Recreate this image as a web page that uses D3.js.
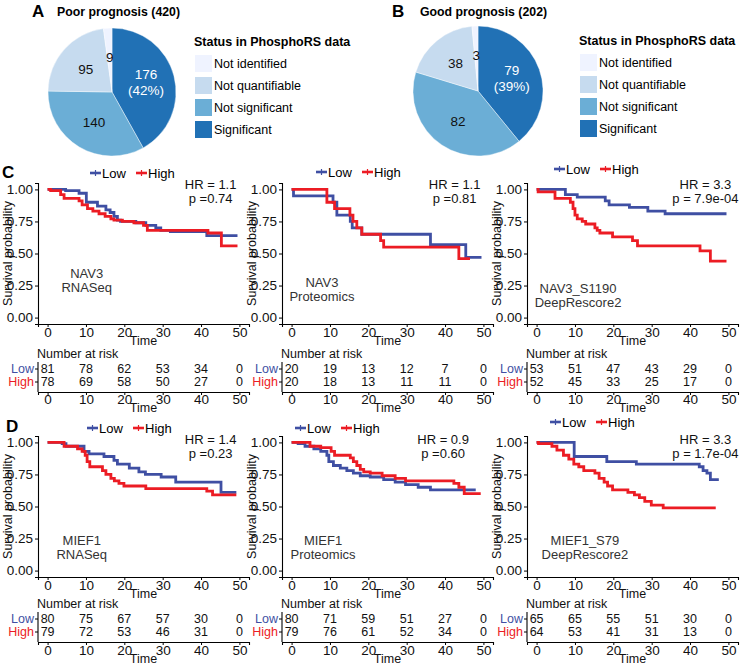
<!DOCTYPE html>
<html>
<head>
<meta charset="utf-8">
<script src="https://cdn.jsdelivr.net/npm/d3@7"></script>
<style>
body { margin: 0; background: #fff; }
svg text { font-family: "Liberation Sans", Arial, Helvetica, sans-serif; }
</style>
</head>
<body>
<script>
// ---- panels A / B : pie data
var statusNames = ["Significant", "Not significant", "Not quantifiable", "Not identified"];
var poorCounts = [176, 140, 95, 9];
var goodCounts = [79, 82, 38, 3];
var legendNames = ["Not identified", "Not quantifiable", "Not significant", "Significant"];

// ---- panels C / D : survival curves
var timeTicks = [0, 10, 20, 30, 40, 50];
var survTicks = [0, 0.25, 0.5, 0.75, 1];
var groupNames = ["Low", "High"];

// step points [time, survival], last pair = end of follow-up
var nav3RnaLow = [[0,1],[4.7,0.99],[8.2,0.97],[10.1,0.90],[13,0.87],[15.2,0.84],[16.3,0.82],[17.3,0.79],[18.2,0.76],[19,0.75],[23,0.74],[25.6,0.72],[28.2,0.70],[29.5,0.68],[32,0.67],[41.5,0.64],[49.5,0.64]];
var nav3RnaHigh = [[0,1],[0.8,0.99],[3.4,0.96],[4.3,0.93],[8.2,0.91],[9,0.88],[10.4,0.85],[11.8,0.83],[13.4,0.81],[15,0.79],[16.5,0.77],[17.3,0.76],[19.5,0.75],[22.5,0.74],[25,0.72],[26,0.68],[41.8,0.66],[45.3,0.56],[49.5,0.56]];
var nav3ProtLow = [[0,1],[0.5,0.95],[10.8,0.90],[11.8,0.80],[15.3,0.75],[15.8,0.70],[18.3,0.65],[36.2,0.57],[45.4,0.47],[49.5,0.47]];
var nav3ProtHigh = [[0,1],[9.2,0.90],[11.2,0.85],[15.2,0.80],[16,0.75],[17,0.70],[18.3,0.65],[23.2,0.60],[24,0.55],[43.6,0.46],[46.5,0.46]];
var nav3SiteLow = [[0,1],[7.5,0.96],[10.6,0.94],[17.9,0.91],[18.9,0.88],[24.2,0.86],[29,0.83],[33.5,0.81],[49.5,0.81]];
var nav3SiteHigh = [[0,1],[0.4,0.98],[4.8,0.93],[8.8,0.90],[9.5,0.85],[10,0.80],[10.6,0.77],[11.9,0.75],[12.8,0.73],[15.2,0.70],[15.8,0.68],[16.5,0.66],[19.8,0.63],[25,0.60],[26.3,0.56],[42.6,0.52],[45.3,0.44],[49.5,0.44]];
var mief1RnaLow = [[0,1],[3.8,0.99],[4.8,0.97],[9.5,0.93],[10.8,0.91],[14.7,0.89],[17.3,0.86],[18.2,0.83],[21.3,0.80],[23.8,0.77],[25.5,0.75],[29.6,0.73],[33.4,0.69],[45.2,0.61],[49.2,0.61]];
var mief1RnaHigh = [[0,1],[4.3,0.97],[7.8,0.95],[9,0.93],[9.8,0.90],[10.3,0.85],[11,0.81],[14.3,0.78],[15.2,0.75],[16.5,0.72],[17.4,0.70],[18.6,0.68],[19.9,0.66],[25.6,0.64],[41.5,0.62],[43,0.59],[49.2,0.59]];
var mief1ProtLow = [[0,1],[1.7,0.99],[3.5,0.97],[5.8,0.95],[7.6,0.93],[9.2,0.90],[9.7,0.85],[10.9,0.82],[12.7,0.80],[14.4,0.78],[16.1,0.76],[17.9,0.74],[20.5,0.73],[24,0.71],[27,0.69],[29.7,0.67],[33,0.65],[36.2,0.63],[48,0.63]];
var mief1ProtHigh = [[0,1],[4.8,0.97],[7.6,0.96],[10.3,0.93],[11.2,0.90],[15.3,0.88],[16.1,0.85],[17,0.82],[17.9,0.79],[18.8,0.77],[20.5,0.76],[23.6,0.74],[27,0.72],[29.7,0.70],[42.3,0.68],[43.6,0.65],[45,0.60],[49.3,0.60]];
var mief1SiteLow = [[0,1],[9.8,0.89],[18.3,0.85],[26,0.83],[42.4,0.81],[43.4,0.78],[44.4,0.76],[45.3,0.71],[47.5,0.71]];
var mief1SiteHigh = [[0,1],[0.5,0.99],[4,0.97],[5.3,0.94],[7,0.90],[8.4,0.87],[9.7,0.83],[11,0.81],[12.3,0.78],[15.2,0.76],[16.3,0.72],[17.6,0.69],[18.5,0.66],[19.8,0.63],[23.8,0.61],[25.5,0.59],[26.8,0.57],[28.2,0.54],[29.9,0.51],[33,0.49],[46.7,0.49]];

// number at risk at each time tick
var nav3RnaRiskLow = [81, 78, 62, 53, 34, 0];
var nav3RnaRiskHigh = [78, 69, 58, 50, 27, 0];
var nav3ProtRiskLow = [20, 19, 13, 12, 7, 0];
var nav3ProtRiskHigh = [20, 18, 13, 11, 11, 0];
var nav3SiteRiskLow = [53, 51, 47, 43, 29, 0];
var nav3SiteRiskHigh = [52, 45, 33, 25, 17, 0];
var mief1RnaRiskLow = [80, 75, 67, 57, 30, 0];
var mief1RnaRiskHigh = [79, 72, 53, 46, 31, 0];
var mief1ProtRiskLow = [80, 71, 59, 51, 27, 0];
var mief1ProtRiskHigh = [79, 76, 61, 52, 34, 0];
var mief1SiteRiskLow = [65, 65, 55, 51, 30, 0];
var mief1SiteRiskHigh = [64, 53, 41, 31, 13, 0];

var hrTexts = ["HR = 1.1", "HR = 1.1", "HR = 3.3", "HR = 1.4", "HR = 0.9", "HR = 3.3"];
var pTexts = ["p =0.74", "p =0.81", "p = 7.9e-04", "p =0.23", "p =0.60", "p = 1.7e-04"];
var noteTexts = [["NAV3", "RNASeq"], ["NAV3", "Proteomics"], ["NAV3_S1190", "DeepRescore2"],
                 ["MIEF1", "RNASeq"], ["MIEF1", "Proteomics"], ["MIEF1_S79", "DeepRescore2"]];

var curves = [
    [nav3RnaLow, nav3RnaHigh], [nav3ProtLow, nav3ProtHigh], [nav3SiteLow, nav3SiteHigh],
    [mief1RnaLow, mief1RnaHigh], [mief1ProtLow, mief1ProtHigh], [mief1SiteLow, mief1SiteHigh]
];
var risks = [
    [nav3RnaRiskLow, nav3RnaRiskHigh], [nav3ProtRiskLow, nav3ProtRiskHigh], [nav3SiteRiskLow, nav3SiteRiskHigh],
    [mief1RnaRiskLow, mief1RnaRiskHigh], [mief1ProtRiskLow, mief1ProtRiskHigh], [mief1SiteRiskLow, mief1SiteRiskHigh]
];

// ---- styles / layout
var pieColors = {"Significant": "#2171b5", "Not significant": "#6baed6",
                 "Not quantifiable": "#c6dbef", "Not identified": "#eff3ff"};
var groupColors = ["#3f4fa3", "#ec1c24"];

var colX = [38, 282, 527];
var plotW = 211;
var rows = [
    {letter: "C", letterX: 2, letterY: 178, legY: [173, 172, 169], legX: [90, 316, 554],
     top: 183, bottom: 324, tickY: 337, titleY: 345, hrY: 189, hrT: [42.5, 42.5, 44],
     noteV: [0.31, 0.24, 0.19], noteT: [10.2, 7.9, 10.8],
     nar: 358, lowY: 373, highY: 386, axisY: 392, tTickY: 404, tTitleY: 412},
    {letter: "D", letterX: 6, letterY: 432, legY: [428, 428, 422], legX: [87, 295, 550],
     top: 436, bottom: 577, tickY: 590, titleY: 598, hrY: 444, hrT: [42.5, 39.5, 44],
     noteV: [0.2, 0.2, 0.2], noteT: [8.9, 8.2, 12.6],
     nar: 608, lowY: 623, highY: 636, axisY: 642, tTickY: 655, tTitleY: 663}
];

var svg = d3.select("body").append("svg")
    .attr("width", 740)
    .attr("height", 669);

// ================= pies =================
function drawPie(cx, cy, r, counts, letter, letterX, title, titleX, legX, legY0){
    var total = d3.sum(counts);
    var data = statusNames.map(function(n, i){ return {name: n, value: counts[i]}; });

    svg.append("text").attr("x", letterX).attr("y", 17)
        .attr("font-size", 17).attr("font-weight", "bold").text(letter);
    svg.append("text").attr("x", titleX).attr("y", 16)
        .attr("font-size", 12.3).attr("font-weight", "bold").text(title + " (" + total + ")");

    var pie = d3.pie().sort(null).value(function(d){ return d.value; });
    var arc = d3.arc().innerRadius(0).outerRadius(r);
    var labelArc = d3.arc().innerRadius(r * 0.55).outerRadius(r * 0.55);

    var g = svg.append("g").attr("transform", "translate(" + cx + "," + cy + ")");
    var arcs = pie(data);
    g.selectAll("path").data(arcs).enter().append("path")
        .attr("d", arc)
        .attr("fill", function(d){ return pieColors[d.data.name]; })
        .attr("stroke", "#fff").attr("stroke-width", 0.4);

    arcs.forEach(function(d){
        var c = labelArc.centroid(d);
        var t = g.append("text").attr("text-anchor", "middle").attr("font-size", 13.5)
            .attr("fill", d.data.name === "Significant" ? "#fff" : "#111");
        if (d.data.name === "Significant"){
            t.append("tspan").attr("x", c[0]).attr("y", c[1] - 4).text(d.data.value);
            t.append("tspan").attr("x", c[0]).attr("y", c[1] + 12)
                .text("(" + Math.round(d.data.value / total * 100) + "%)");
        } else {
            t.attr("x", c[0]).attr("y", c[1] + 5).text(d.data.value);
        }
    });

    // legend
    svg.append("text").attr("x", legX - 1).attr("y", legY0 - 9)
        .attr("font-size", 12.5).attr("font-weight", "bold").text("Status in PhosphoRS data");
    legendNames.forEach(function(n, i){
        var y = legY0 + i * 22;
        svg.append("rect").attr("x", legX).attr("y", y).attr("width", 17).attr("height", 17)
            .attr("fill", pieColors[n]);
        svg.append("text").attr("x", legX + 19).attr("y", y + 13)
            .attr("font-size", 12.5).text(n);
    });
}

drawPie(112, 92, 64, poorCounts, "A", 32, "Poor prognosis", 57, 195, 55);
drawPie(478, 91, 65, goodCounts, "B", 392, "Good prognosis", 420, 580, 54);

// ================= survival panels =================
curves.forEach(function(pair, k){
    var row = rows[Math.floor(k / 3)];
    var col = k % 3;
    var ax = colX[col];

    var x = d3.scaleLinear().domain([-2.5, 52.5]).range([ax, ax + plotW]);
    var y = d3.scaleLinear().domain([-0.05, 1.05]).range([row.bottom, row.top]);

    if (col === 0){
        svg.append("text").attr("x", row.letterX).attr("y", row.letterY)
            .attr("font-size", 17).attr("font-weight", "bold").text(row.letter);
    }

    // legend
    var lx = row.legX[col], ly = row.legY[col];
    groupNames.forEach(function(gName, gi){
        var sx = lx + gi * 46;
        svg.append("line").attr("x1", sx).attr("x2", sx + 11).attr("y1", ly).attr("y2", ly)
            .attr("stroke", groupColors[gi]).attr("stroke-width", 2.6);
        svg.append("line").attr("x1", sx + 5.5).attr("x2", sx + 5.5).attr("y1", ly - 3).attr("y2", ly + 3)
            .attr("stroke", groupColors[gi]).attr("stroke-width", 1.2);
        svg.append("text").attr("x", sx + 12).attr("y", ly + 5)
            .attr("font-size", 13).text(gName);
    });

    // axes
    var yAxis = svg.append("g").attr("transform", "translate(" + ax + ",0)")
        .call(d3.axisLeft(y).tickValues(survTicks).tickFormat(d3.format(".2f")).tickSize(3).tickPadding(2));
    var xAxis = svg.append("g").attr("transform", "translate(0," + row.bottom + ")")
        .call(d3.axisBottom(x).tickValues(timeTicks).tickSize(3).tickPadding(2));
    [yAxis, xAxis].forEach(function(a){
        a.select(".domain").attr("stroke", "#000").attr("stroke-width", 1.1);
        a.selectAll(".tick line").attr("stroke", "#000");
        a.selectAll("text").attr("font-size", 13.5).attr("fill", "#111")
            .attr("font-family", "'Liberation Sans', Arial, sans-serif");
    });
    xAxis.selectAll(".tick text").attr("dy", null).attr("y", row.tickY - row.bottom);

    svg.append("text").attr("transform", "translate(" + (ax - 26) + "," + y(0.5) + ") rotate(-90)")
        .attr("text-anchor", "middle").attr("font-size", 12.5).attr("fill", "#111")
        .text("Survival probability");
    svg.append("text").attr("x", x(25)).attr("y", row.titleY)
        .attr("text-anchor", "middle").attr("font-size", 12.5).attr("fill", "#111").text("Time");

    // curves
    var line = d3.line().curve(d3.curveStepAfter)
        .x(function(d){ return x(d[0]); })
        .y(function(d){ return y(d[1]); });
    pair.forEach(function(pts, gi){
        svg.append("path").datum(pts)
            .attr("d", line)
            .attr("fill", "none")
            .attr("stroke", groupColors[gi])
            .attr("stroke-width", 2.8);
    });

    // HR / p
    var hx = x(row.hrT[col]);
    svg.append("text").attr("x", hx).attr("y", row.hrY).attr("text-anchor", "middle")
        .attr("font-size", 13).attr("fill", "#111").text(hrTexts[k]);
    svg.append("text").attr("x", hx).attr("y", row.hrY + 14).attr("text-anchor", "middle")
        .attr("font-size", 13).attr("fill", "#111").text(pTexts[k]);

    // annotation
    var nx = x(row.noteT[col]), ny = y(row.noteV[col]);
    noteTexts[k].forEach(function(s, li){
        svg.append("text").attr("x", nx).attr("y", ny + li * 14).attr("text-anchor", "middle")
            .attr("font-size", 13).attr("fill", "#333").text(s);
    });

    // ---- number at risk table
    svg.append("text").attr("x", ax - 1).attr("y", row.nar)
        .attr("font-size", 12.5).attr("fill", "#111").text("Number at risk");
    var rowYs = [row.lowY, row.highY];
    risks[k].forEach(function(vals, gi){
        svg.append("text").attr("x", ax - 4).attr("y", rowYs[gi]).attr("text-anchor", "end")
            .attr("font-size", 12.5).attr("fill", groupColors[gi]).text(groupNames[gi]);
        svg.append("line").attr("x1", ax - 3).attr("x2", ax).attr("y1", rowYs[gi] - 4).attr("y2", rowYs[gi] - 4)
            .attr("stroke", "#000");
        vals.forEach(function(v, ti){
            svg.append("text").attr("x", x(timeTicks[ti])).attr("y", rowYs[gi])
                .attr("text-anchor", "middle").attr("font-size", 12.5).attr("fill", "#111").text(v);
        });
    });
    svg.append("line").attr("x1", ax).attr("x2", ax).attr("y1", row.nar + 4).attr("y2", row.axisY)
        .attr("stroke", "#000").attr("stroke-width", 1.1);
    var tAxis = svg.append("g").attr("transform", "translate(0," + row.axisY + ")")
        .call(d3.axisBottom(x).tickValues(timeTicks).tickSize(3).tickPadding(2));
    tAxis.select(".domain").attr("stroke", "#000").attr("stroke-width", 1.1);
    tAxis.selectAll("text").attr("font-size", 13.5).attr("fill", "#111")
        .attr("font-family", "'Liberation Sans', Arial, sans-serif")
        .attr("dy", null).attr("y", row.tTickY - row.axisY);
    svg.append("text").attr("x", x(25)).attr("y", row.tTitleY)
        .attr("text-anchor", "middle").attr("font-size", 12.5).attr("fill", "#111").text("Time");
});
</script>
</body>
</html>
